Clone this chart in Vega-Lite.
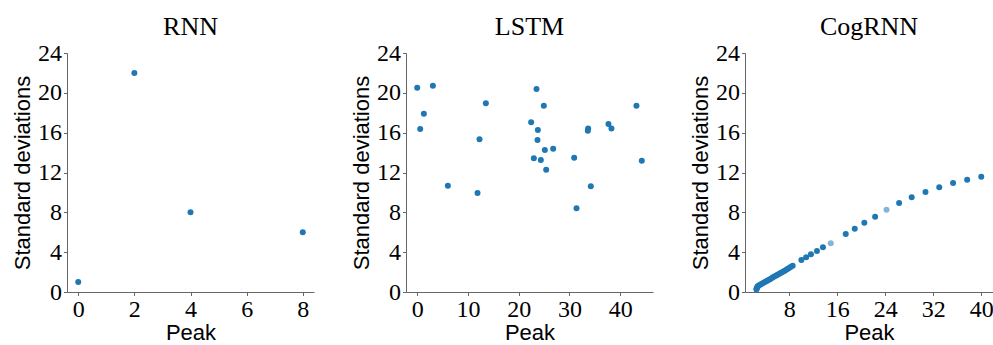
{
  "$schema": "https://vega.github.io/schema/vega-lite/v6.json",
  "padding": {"left": 11, "top": 14, "right": 0, "bottom": 0},
  "bounds": "flush",
  "spacing": 92,
  "background": "white",
  "config": {
    "view": {"stroke": null},
    "axis": {
      "grid": false,
      "domainColor": "#666666",
      "domainWidth": 1,
      "tickColor": "#666666",
      "tickSize": 3.5,
      "labelFont": "Liberation Serif",
      "labelFontSize": 24,
      "labelColor": "#000000",
      "labelPadding": 2,
      "labelFlush": false,
      "labelOverlap": false,
      "labelBound": false,
      "titleFont": "Liberation Sans",
      "titleFontSize": 22,
      "titleFontWeight": "normal",
      "titleColor": "#000000",
      "titlePadding": 3
    },
    "axisX": {"titlePadding": 1},
    "title": {
      "font": "Liberation Serif",
      "fontSize": 26,
      "fontWeight": "normal",
      "color": "#000000",
      "anchor": "middle",
      "offset": 1
    }
  },
  "datasets": {
    "rnn": [
      {"peak": 0, "sd": 1},
      {"peak": 2, "sd": 22},
      {"peak": 4, "sd": 8},
      {"peak": 8, "sd": 6}
    ],
    "lstm": [
      {"peak": 0.0, "sd": 20.52},
      {"peak": 3.09, "sd": 20.72},
      {"peak": 1.31, "sd": 17.91},
      {"peak": 0.59, "sd": 16.37},
      {"peak": 13.53, "sd": 18.95},
      {"peak": 12.28, "sd": 15.33},
      {"peak": 6.04, "sd": 10.68},
      {"peak": 11.89, "sd": 9.94},
      {"peak": 23.51, "sd": 20.38},
      {"peak": 24.96, "sd": 18.71},
      {"peak": 22.46, "sd": 17.04},
      {"peak": 23.78, "sd": 16.27},
      {"peak": 23.71, "sd": 15.26},
      {"peak": 25.16, "sd": 14.26},
      {"peak": 26.8, "sd": 14.39},
      {"peak": 22.99, "sd": 13.42},
      {"peak": 24.37, "sd": 13.26},
      {"peak": 25.42, "sd": 12.28},
      {"peak": 30.94, "sd": 13.49},
      {"peak": 31.4, "sd": 8.4},
      {"peak": 33.69, "sd": 16.43},
      {"peak": 33.63, "sd": 16.2},
      {"peak": 34.22, "sd": 10.61},
      {"peak": 37.7, "sd": 16.87},
      {"peak": 38.29, "sd": 16.43},
      {"peak": 43.22, "sd": 18.71},
      {"peak": 44.27, "sd": 13.19}
    ],
    "cog": [
      {"peak": 40.0, "sd": 11.58, "models": 3},
      {"peak": 37.65, "sd": 11.28, "models": 3},
      {"peak": 35.3, "sd": 10.95, "models": 3},
      {"peak": 33.0, "sd": 10.51, "models": 3},
      {"peak": 30.7, "sd": 10.04, "models": 3},
      {"peak": 28.4, "sd": 9.51, "models": 3},
      {"peak": 26.3, "sd": 8.94, "models": 3},
      {"peak": 24.2, "sd": 8.27, "models": 1},
      {"peak": 22.3, "sd": 7.56, "models": 3},
      {"peak": 20.5, "sd": 6.96, "models": 3},
      {"peak": 18.9, "sd": 6.36, "models": 3},
      {"peak": 17.4, "sd": 5.82, "models": 3},
      {"peak": 14.9, "sd": 4.89, "models": 1},
      {"peak": 13.6, "sd": 4.49, "models": 3},
      {"peak": 12.6, "sd": 4.12, "models": 3},
      {"peak": 11.6, "sd": 3.78, "models": 3},
      {"peak": 10.8, "sd": 3.48, "models": 3},
      {"peak": 10.0, "sd": 3.21, "models": 3},
      {"peak": 8.55, "sd": 2.63, "models": 3},
      {"peak": 8.2, "sd": 2.5, "models": 3},
      {"peak": 7.9, "sd": 2.39, "models": 3},
      {"peak": 7.6, "sd": 2.28, "models": 3},
      {"peak": 7.3, "sd": 2.17, "models": 3},
      {"peak": 7.0, "sd": 2.07, "models": 3},
      {"peak": 6.7, "sd": 1.97, "models": 3},
      {"peak": 6.4, "sd": 1.86, "models": 3},
      {"peak": 6.1, "sd": 1.76, "models": 3},
      {"peak": 5.8, "sd": 1.66, "models": 3},
      {"peak": 5.5, "sd": 1.55, "models": 3},
      {"peak": 5.2, "sd": 1.45, "models": 3},
      {"peak": 4.9, "sd": 1.34, "models": 3},
      {"peak": 4.6, "sd": 1.24, "models": 3},
      {"peak": 4.3, "sd": 1.14, "models": 3},
      {"peak": 4.0, "sd": 1.03, "models": 3},
      {"peak": 3.7, "sd": 0.93, "models": 3},
      {"peak": 3.4, "sd": 0.83, "models": 3},
      {"peak": 3.1, "sd": 0.72, "models": 3},
      {"peak": 2.85, "sd": 0.64, "models": 3},
      {"peak": 2.7, "sd": 0.56, "models": 3},
      {"peak": 2.6, "sd": 0.46, "models": 3},
      {"peak": 2.55, "sd": 0.35, "models": 3},
      {"peak": 2.5, "sd": 0.24, "models": 3}
    ]
  },
  "hconcat": [
    {
      "title": "RNN",
      "width": 247,
      "height": 239,
      "data": {"name": "rnn"},
      "mark": {"type": "circle", "size": 36, "color": "#1f77b4", "opacity": 1},
      "encoding": {
        "x": {"field": "peak", "type": "quantitative", "title": "Peak",
              "scale": {"domain": [-0.4, 8.4], "nice": false, "zero": false},
              "axis": {"values": [0, 2, 4, 6, 8]}},
        "y": {"field": "sd", "type": "quantitative", "title": "Standard deviations",
              "scale": {"domain": [0, 24], "nice": false},
              "axis": {"values": [0, 4, 8, 12, 16, 20, 24]}}
      }
    },
    {
      "title": "LSTM",
      "width": 247,
      "height": 239,
      "data": {"name": "lstm"},
      "mark": {"type": "circle", "size": 36, "color": "#1f77b4", "opacity": 1},
      "encoding": {
        "x": {"field": "peak", "type": "quantitative", "title": "Peak",
              "scale": {"domain": [-2.21, 46.48], "nice": false, "zero": false},
              "axis": {"values": [0, 10, 20, 30, 40]}},
        "y": {"field": "sd", "type": "quantitative", "title": "Standard deviations",
              "scale": {"domain": [0, 24], "nice": false},
              "axis": {"values": [0, 4, 8, 12, 16, 20, 24]}}
      }
    },
    {
      "title": "CogRNN",
      "width": 248,
      "height": 239,
      "data": {"name": "cog"},
      "mark": {"type": "circle", "size": 36, "color": "#1f77b4"},
      "encoding": {
        "x": {"field": "peak", "type": "quantitative", "title": "Peak",
              "scale": {"domain": [0.6, 41.96], "nice": false, "zero": false},
              "axis": {"values": [8, 16, 24, 32, 40]}},
        "y": {"field": "sd", "type": "quantitative", "title": "Standard deviations",
              "scale": {"domain": [0, 24], "nice": false},
              "axis": {"values": [0, 4, 8, 12, 16, 20, 24]}},
        "opacity": {"field": "models", "type": "quantitative",
                    "scale": {"domain": [1, 3], "range": [0.55, 1]},
                    "legend": null}
      }
    }
  ]
}
